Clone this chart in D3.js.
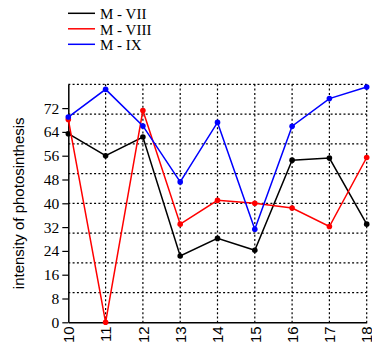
<!DOCTYPE html>
<html>
<head>
<meta charset="utf-8">
<script src="https://d3js.org/d3.v7.min.js"></script>
<style>
  body { margin: 0; background: #fff; }
  svg { display: block; }
</style>
</head>
<body>
<svg id="chart"></svg>
<script>
// Chart data
const days = [10, 11, 12, 13, 14, 15, 16, 17, 18];
const seriesNames = ["M - VII", "M - VIII", "M - IX"];
const seriesColors = ["#000000", "#ff0000", "#0000ff"];
const mVII = [63.4, 56, 62.3, 22.3, 28.2, 24.2, 54.5, 55.2, 33];
const mVIII = [68.2, 0, 71.2, 33, 41, 40, 38.4, 32.2, 55.4];
const mIX = [69, 78.3, 66, 47.2, 67.2, 31.3, 65.9, 75.2, 79.1];
const yTicks = [0, 8, 16, 24, 32, 40, 48, 56, 64, 72];
const yGrid = [10, 20, 30, 40, 50, 60, 70, 80];
const yLabel = "intensity of photosinthesis";

function drawChart() {
    const W = 372, H = 347;
    const margin = {top: 84.3, right: 5.3, bottom: 24.7, left: 68.3};
    const width = W - margin.left - margin.right;
    const height = H - margin.top - margin.bottom;

    const svg = d3.select("#chart")
        .attr("width", W)
        .attr("height", H);

    const g = svg.append("g")
        .attr("transform", `translate(${margin.left},${margin.top})`);

    const x = d3.scaleLinear().domain([10, 18]).range([0, width]);
    const y = d3.scaleLinear().domain([0, 80]).range([height, 0]);

    // Dotted grid
    g.selectAll(".hgrid")
        .data(yGrid)
        .enter()
        .append("line")
        .attr("class", "hgrid")
        .attr("x1", 0)
        .attr("x2", width)
        .attr("y1", d => y(d))
        .attr("y2", d => y(d))
        .attr("stroke", "#000")
        .attr("stroke-width", 1.2)
        .attr("stroke-dasharray", "2,2.3");

    g.selectAll(".vgrid")
        .data(days.slice(1))
        .enter()
        .append("line")
        .attr("class", "vgrid")
        .attr("x1", d => x(d))
        .attr("x2", d => x(d))
        .attr("y1", 0)
        .attr("y2", height)
        .attr("stroke", "#000")
        .attr("stroke-width", 1.2)
        .attr("stroke-dasharray", "2,2.3");

    // Y axis
    const yAxis = g.append("g")
        .call(d3.axisLeft(y).tickValues(yTicks).tickSize(6).tickSizeOuter(0).tickPadding(3));
    yAxis.select(".domain").attr("stroke-width", 1.5);
    yAxis.selectAll(".tick line").attr("stroke-width", 1.2);
    yAxis.selectAll("text")
        .attr("font-family", "'Liberation Serif', 'Times New Roman', serif")
        .attr("font-size", 15.5)
        .attr("fill", "#000");

    // X axis
    const xAxis = g.append("g")
        .attr("transform", `translate(0,${height})`)
        .call(d3.axisBottom(x).tickValues(days).tickFormat(d3.format("d")).tickSize(0).tickSizeOuter(0));
    xAxis.select(".domain").attr("stroke-width", 1.5);
    xAxis.selectAll("text")
        .attr("font-family", "'Liberation Sans', Arial, sans-serif")
        .attr("font-size", 15)
        .attr("fill", "#000")
        .attr("transform", "rotate(-90)")
        .attr("text-anchor", "end")
        .attr("x", -4)
        .attr("y", 0)
        .attr("dy", "0.35em");

    // Y label
    g.append("text")
        .attr("transform", `translate(${19 - margin.left},${y(40)}) rotate(-90)`)
        .attr("text-anchor", "middle")
        .attr("dy", "0.35em")
        .attr("font-family", "'Liberation Sans', Arial, sans-serif")
        .attr("font-size", 15)
        .attr("fill", "#000")
        .text(yLabel);

    // Series
    const allSeries = [mVII, mVIII, mIX];
    const line = d3.line()
        .x((d, i) => x(days[i]))
        .y(d => y(d));

    allSeries.forEach((values, s) => {
        g.append("path")
            .datum(values)
            .attr("fill", "none")
            .attr("stroke", seriesColors[s])
            .attr("stroke-width", 1.5)
            .attr("d", line);

        g.selectAll(".dot-" + s)
            .data(values)
            .enter()
            .append("circle")
            .attr("class", "dot-" + s)
            .attr("cx", (d, i) => x(days[i]))
            .attr("cy", d => y(d))
            .attr("r", 2.8)
            .attr("fill", seriesColors[s]);
    });

    // Legend
    const legend = svg.append("g")
        .attr("transform", "translate(68,13.3)");

    seriesNames.forEach((name, i) => {
        const item = legend.append("g")
            .attr("transform", `translate(0,${i * 15.5})`);
        item.append("line")
            .attr("x1", 0)
            .attr("x2", 27)
            .attr("y1", 0)
            .attr("y2", 0)
            .attr("stroke", seriesColors[i])
            .attr("stroke-width", 1.5);
        item.append("text")
            .attr("x", 32)
            .attr("y", 6)
            .attr("font-family", "'Liberation Serif', 'Times New Roman', serif")
            .attr("font-size", 15)
            .attr("fill", "#000")
            .text(name);
    });
}

drawChart();
</script>
</body>
</html>
